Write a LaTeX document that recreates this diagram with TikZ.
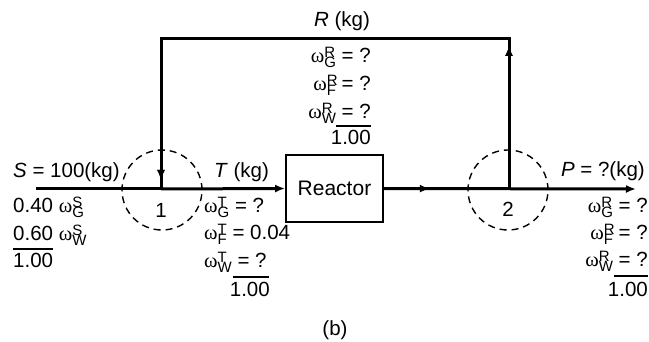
\documentclass[tikz,border=0pt]{standalone}
\usepackage{fontspec}
\setmainfont{Liberation Sans}
\newfontfamily\omf{Liberation Serif}
\usetikzlibrary{arrows.meta,decorations.markings}
\newcommand{\subsz}{\fontsize{15}{15}\selectfont}
\newcommand{\wsym}[2]{{\omf ω}\rlap{\raisebox{5.5pt}{\subsz #1}}\raisebox{-5pt}{\subsz #2}}
\tikzset{
  lbl/.style={inner sep=0pt, font=\fontsize{20.5}{24}\selectfont},
  flow/.style={line width=3pt},
  tip/.style={-{Latex[length=10pt,width=8pt]}},
  midarrow/.style={postaction={decorate}, decoration={markings, mark=at position #1 with {\arrow{Latex[length=10pt,width=8pt]}}}},
  mixer/.style={circle, draw, dashed, line width=1.4pt, dash pattern=on 7pt off 5pt, minimum size=80pt, inner sep=0pt},
  unit/.style={draw, line width=1.8pt, minimum width=97pt, minimum height=67pt, inner sep=0pt, font=\fontsize{21}{24}\selectfont},
  sumline/.style={line width=1.1pt}
}
\begin{document}
\begin{tikzpicture}[x=1pt,y=-1pt]
\useasboundingbox (0,0) rectangle (649,342);
% nodes
\node[mixer] (c1) at (162,190) {};
\node[mixer] (c2) at (508,190) {};
\node[unit] (reactor) at (334.5,188.5) {Reactor};
\coordinate (sin) at (36,189);
\coordinate (m1) at (161,189);
\coordinate (m2) at (509,189);
\coordinate (pout) at (636,189);
\coordinate (tr) at (509,39);
\coordinate (tl) at (161,39);
\node[lbl] at (161,210) {1};
\node[lbl] at (508,209) {2};
% main flow
\draw[flow] (sin) -- (m1);
\draw[flow,tip] (m1) -- (reactor.west);
\draw[flow,tip,midarrow=46pt] (reactor.east) -- (pout);
% recycle
\draw[flow,midarrow=143pt,midarrow=639pt] (m2) -- (tr) -- (tl) -- (m1);
% R labels
\node[lbl,anchor=base] at (342,27) {\textit{R} (kg)};
\node[lbl,anchor=base east] at (371,63) {\wsym{R}{G} = ?};
\node[lbl,anchor=base east] at (371,91) {\wsym{R}{F} = ?};
\node[lbl,anchor=base east] at (371,119) {\wsym{R}{W} = ?};
\coordinate (rl1) at (336,126); \coordinate (rl2) at (371,126);
\draw[sumline] (rl1) -- (rl2);
\node[lbl,anchor=base east] at (371,145) {1.00};
% S labels
\node[lbl,anchor=base west] at (13,178) {\textit{S} = 100(kg)};
\node[lbl,anchor=base west] at (13,213) {0.40 \wsym{S}{G}};
\node[lbl,anchor=base west] at (13,241) {0.60 \wsym{S}{W}};
\coordinate (sl1) at (13,249); \coordinate (sl2) at (53,249);
\draw[sumline] (sl1) -- (sl2);
\node[lbl,anchor=base west] at (13,268) {1.00};
% T labels
\node[lbl,anchor=base west] at (214,178) {\textit{T} (kg)};
\node[lbl,anchor=base west] at (204,213) {\wsym{T}{G} = ?};
\node[lbl,anchor=base west] at (204,240) {\wsym{T}{F} = 0.04};
\node[lbl,anchor=base west] at (204,268) {\wsym{T}{W} = ?};
\coordinate (tl1) at (233,277); \coordinate (tl2) at (269,277);
\draw[sumline] (tl1) -- (tl2);
\node[lbl,anchor=base east] at (270,297) {1.00};
% P labels
\node[lbl,anchor=base east] at (645,177) {\textit{P} = ?(kg)};
\node[lbl,anchor=base east] at (648,213) {\wsym{R}{G} = ?};
\node[lbl,anchor=base east] at (648,240) {\wsym{R}{F} = ?};
\node[lbl,anchor=base east] at (648,267) {\wsym{R}{W} = ?};
\coordinate (pl1) at (614,276); \coordinate (pl2) at (648,276);
\draw[sumline] (pl1) -- (pl2);
\node[lbl,anchor=base east] at (648,297) {1.00};
% caption
\node[lbl,anchor=base] at (335,335) {(b)};
\end{tikzpicture}
\end{document}
